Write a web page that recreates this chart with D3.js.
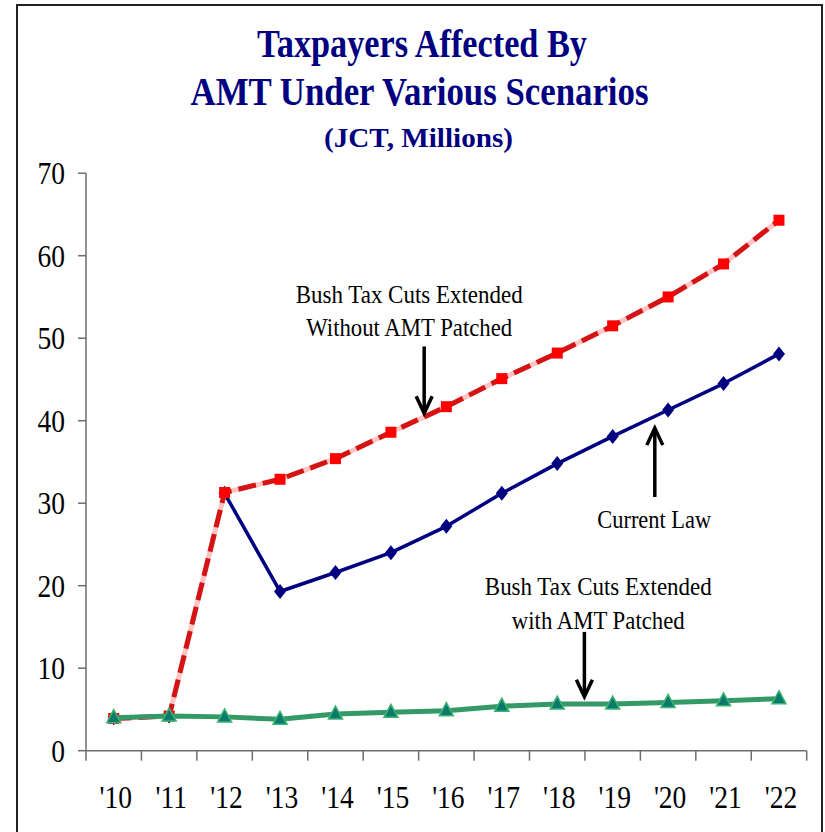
<!DOCTYPE html>
<html>
<head>
<meta charset="utf-8">
<script src="https://cdn.jsdelivr.net/npm/d3@7"></script>
<style>
  html, body { margin: 0; padding: 0; background: #fff; }
  svg { display: block; }
</style>
</head>
<body>
<script>
// Tax years on the horizontal axis
const years = ["'10", "'11", "'12", "'13", "'14", "'15", "'16", "'17", "'18", "'19", "'20", "'21", "'22"];

// Taxpayers hit by the AMT, millions (JCT)
const currentLaw = [4.0, 4.2, 31.2, 19.3, 21.6, 24.0, 27.2, 31.2, 34.8, 38.1, 41.3, 44.5, 48.1];
const extendedNoPatch = [3.9, 4.2, 31.3, 32.9, 35.4, 38.6, 41.7, 45.1, 48.2, 51.5, 55.0, 59.0, 64.3];
const extendedWithPatch = [4.0, 4.2, 4.1, 3.8, 4.45, 4.65, 4.85, 5.4, 5.65, 5.65, 5.85, 6.05, 6.3];

const yTicks = [0, 10, 20, 30, 40, 50, 60, 70];

const titleLines = ["Taxpayers Affected By", "AMT Under Various Scenarios", "(JCT, Millions)"];

// Callouts: text lines and an arrow from (tail) to (tip), x in category index units, y in millions
const callouts = [
  { lines: ["Bush Tax Cuts Extended", "Without AMT Patched"], cx: 5.33, cy: 54.3, arrowX: 5.6, tail: 49.0, tip: 40.9 },
  { lines: ["Current Law"], cx: 9.75, cy: 27.0, arrowX: 9.76, tail: 30.75, tip: 39.1 },
  { lines: ["Bush Tax Cuts Extended", "with AMT Patched"], cx: 8.74, cy: 18.85, arrowX: 8.49, tail: 14.4, tip: 6.55 }
];

(function draw() {
  const W = 825, H = 832;
  const svg = d3.select("body").append("svg").attr("width", W).attr("height", H);

  // outer frame
  svg.append("rect")
    .attr("x", 17).attr("y", 5).attr("width", 805).attr("height", 860)
    .attr("fill", "#fff").attr("stroke", "#222").attr("stroke-width", 2);

  const pl = 86, pr = 806.7, pt = 173.2, pb = 750.7;

  const x = d3.scaleBand().domain(years).range([pl, pr]).padding(0);
  const y = d3.scaleLinear().domain([0, 70]).range([pb, pt]);
  const xc = i => x(years[0]) + x.bandwidth() * (i + 0.5);

  const SERIF = "'Liberation Serif', 'Times New Roman', serif";

  // text squeezed horizontally to a given width (condensed look)
  function fitText(parent, str, cx, baseline, size, weight, color, width) {
    const t = parent.append("text")
      .attr("font-family", SERIF)
      .attr("font-size", size)
      .attr("font-weight", weight)
      .attr("fill", color)
      .attr("text-anchor", "middle")
      .text(str);
    const w = t.node().getComputedTextLength();
    t.attr("transform", `translate(${cx},${baseline}) scale(${width / w},1)`);
    return t;
  }

  // title
  const tg = svg.append("g");
  fitText(tg, titleLines[0], 422, 57, 40, "bold", "#000080", 330);
  fitText(tg, titleLines[1], 419.5, 105, 40, "bold", "#000080", 458);
  fitText(tg, titleLines[2], 418.5, 147, 28, "bold", "#000080", 189);

  // y axis
  const axisColor = "#6e6e6e";
  const ya = svg.append("g");
  ya.append("line").attr("x1", pl).attr("x2", pl).attr("y1", y(0)).attr("y2", y(70))
    .attr("stroke", axisColor).attr("stroke-width", 1.5);
  ya.selectAll("line.tick").data(yTicks).enter().append("line")
    .attr("x1", pl - 8).attr("x2", pl).attr("y1", d => y(d)).attr("y2", d => y(d))
    .attr("stroke", axisColor).attr("stroke-width", 1.5);
  const tickSX = 0.86;
  ya.selectAll("text").data(yTicks).enter().append("text")
    .attr("font-family", SERIF).attr("font-size", 32).attr("fill", "#000")
    .attr("text-anchor", "end")
    .attr("transform", d => `translate(${pl - 21},${y(d) + 11}) scale(${tickSX},1)`)
    .text(d => d);

  // x axis
  const xa = svg.append("g");
  xa.append("line").attr("x1", pl).attr("x2", pr).attr("y1", pb).attr("y2", pb)
    .attr("stroke", axisColor).attr("stroke-width", 1.5);
  const bounds = years.map(d => x(d)).concat([x(years[years.length - 1]) + x.bandwidth()]);
  xa.selectAll("line.tick").data(bounds).enter().append("line")
    .attr("x1", d => d).attr("x2", d => d).attr("y1", pb).attr("y2", pb + 10)
    .attr("stroke", axisColor).attr("stroke-width", 1.5);
  xa.selectAll("text").data(years).enter().append("text")
    .attr("font-family", SERIF).attr("font-size", 32).attr("fill", "#000")
    .attr("text-anchor", "middle")
    .attr("transform", (d, i) => `translate(${xc(i) + 2},${pb + 57}) scale(${tickSX},1)`)
    .text(d => d);

  const line = d3.line().x((d, i) => xc(i)).y(d => y(d));

  // Current law (navy, diamonds)
  svg.append("path").datum(currentLaw).attr("d", line)
    .attr("fill", "none").attr("stroke", "#000080").attr("stroke-width", 3.5)
    .attr("stroke-linejoin", "round");
  svg.append("g").selectAll("path").data(currentLaw).enter().append("path")
    .attr("d", "M0,-7.5L6,0L0,7.5L-6,0Z")
    .attr("transform", (d, i) => `translate(${xc(i)},${y(d)})`)
    .attr("fill", "#000080");

  // Extended without patch (red dashed over pink, squares)
  svg.append("path").datum(extendedNoPatch).attr("d", line)
    .attr("fill", "none").attr("stroke", "#ffc4c4").attr("stroke-width", 5);
  svg.append("path").datum(extendedNoPatch).attr("d", line)
    .attr("fill", "none").attr("stroke", "#d41414").attr("stroke-width", 5)
    .attr("stroke-dasharray", "18,7");
  svg.append("g").selectAll("rect").data(extendedNoPatch).enter().append("rect")
    .attr("x", (d, i) => xc(i) - 5.5).attr("y", d => y(d) - 5.5)
    .attr("width", 11).attr("height", 11)
    .attr("fill", "#ff0000");

  // Extended with patch (green, triangles)
  svg.append("path").datum(extendedWithPatch).attr("d", line)
    .attr("fill", "none").attr("stroke", "#339966").attr("stroke-width", 5)
    .attr("stroke-linejoin", "round");
  svg.append("g").selectAll("path").data(extendedWithPatch).enter().append("path")
    .attr("d", "M0,-8L7,5L-7,5Z")
    .attr("transform", (d, i) => `translate(${xc(i)},${y(d)})`)
    .attr("fill", "#0b7a6c").attr("stroke", "#3cb371").attr("stroke-width", 1.5);

  // callouts
  const cg = svg.append("g");
  const widths = { "Bush Tax Cuts Extended": 227, "Without AMT Patched": 206, "with AMT Patched": 173, "Current Law": 114 };
  callouts.forEach(c => {
    const cx = xc(c.cx);
    c.lines.forEach((s, k) => {
      fitText(cg, s, cx, y(c.cy) + k * 33.5, 26, "normal", "#000", widths[s]);
    });
    const ax = xc(c.arrowX), y0 = y(c.tail), y1 = y(c.tip);
    const dir = y1 > y0 ? 1 : -1;
    cg.append("line").attr("x1", ax).attr("x2", ax).attr("y1", y0).attr("y2", y1 - dir * 1.5)
      .attr("stroke", "#000").attr("stroke-width", 3.5);
    cg.append("path")
      .attr("d", `M${ax - 8},${y1 - dir * 17}L${ax},${y1}L${ax + 8},${y1 - dir * 17}`)
      .attr("fill", "none").attr("stroke", "#000").attr("stroke-width", 3.5)
      .attr("stroke-linejoin", "miter");
  });
})();
</script>
</body>
</html>
